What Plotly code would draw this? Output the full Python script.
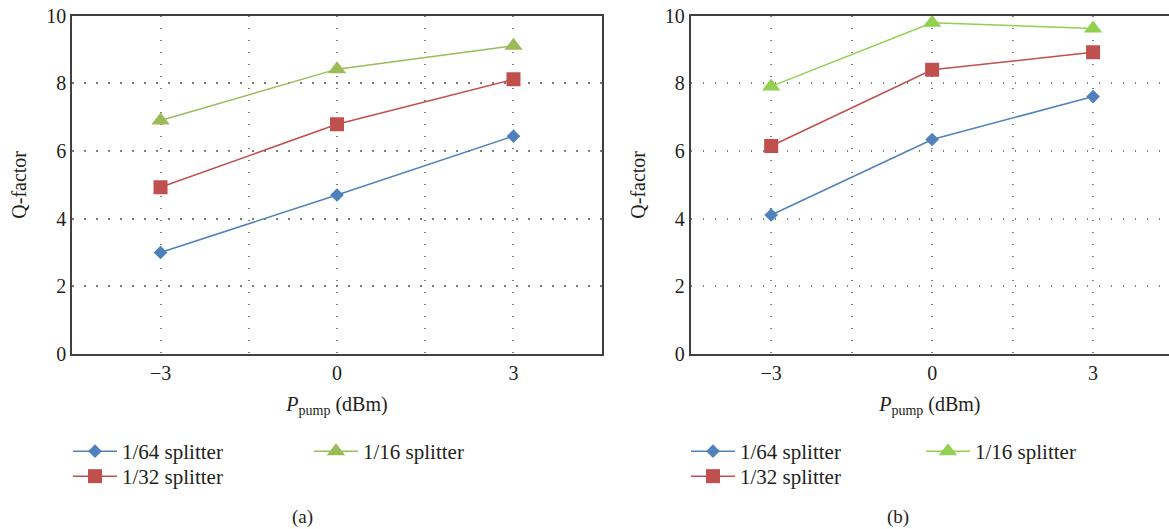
import plotly.graph_objects as go

# ---------------- data ----------------
pump_dbm = [-3, 0, 3]
series_names = ["1/64 splitter", "1/32 splitter", "1/16 splitter"]

# panel (a)
a_1_64 = [3.00, 4.70, 6.44]
a_1_32 = [4.93, 6.79, 8.12]
a_1_16 = [6.90, 8.42, 9.11]

# panel (b)
b_1_64 = [4.11, 6.34, 7.61]
b_1_32 = [6.15, 8.40, 8.92]
b_1_16 = [7.91, 9.79, 9.62]

x_tickvals = [-3, 0, 3]
x_ticktext = ["\u22123", "0", "3"]
x_minor_grid = [-1.5, 1.5]
y_tickvals = [0, 2, 4, 6, 8, 10]

# ---------------- style ----------------
W, H = 1169, 529
FONT = "Liberation Serif, Times New Roman, serif"
TXT = "#231f20"
AXC = "#404040"
GRIDC = "#7c7c7c"
DASH = "1.5px,10.5px"

colors_a = ["#4F81BD", "#C0504D", "#9BBB59"]
colors_b = ["#4F81BD", "#C0504D", "#92D050"]
symbols = ["diamond", "square", "triangle-up"]
msizes = [10.5, 14, 16]

def px_x(p):
    return p / W

def px_y(p):
    return 1 - p / H

fig = go.Figure()

# legend slot per series: (left panel legends, right panel legends)
legend_ids_a = ["legend", "legend2", "legend3"]
legend_ids_b = ["legend4", "legend5", "legend6"]
# legend item positions in pixels (left x, top y)
legend_pos_a = [(68, 431), (68, 456), (309, 431)]
legend_pos_b = [(686, 431), (686, 456), (921, 431)]

panels = [
    ("x", "y", [a_1_64, a_1_32, a_1_16], colors_a, legend_ids_a),
    ("x2", "y2", [b_1_64, b_1_32, b_1_16], colors_b, legend_ids_b),
]
for xa, ya, vals, cols, legs in panels:
    for i, (name, v) in enumerate(zip(series_names, vals)):
        fig.add_trace(go.Scatter(
            x=pump_dbm, y=v, name=name, mode="lines+markers",
            xaxis=xa, yaxis=ya,
            line=dict(color=cols[i], width=1.5),
            marker=dict(symbol=symbols[i], size=msizes[i], color=cols[i]),
            legend=legs[i],
        ))

ydom = [px_y(354), px_y(15.7)]
grid_common = dict(showgrid=True, gridcolor=GRIDC, gridwidth=1.6, griddash=DASH,
                   zeroline=False, ticks="", showline=True, linecolor=AXC, linewidth=2,
                   automargin=False,
                   tickfont=dict(family=FONT, size=20, color=TXT))
x_minor = dict(tickvals=x_minor_grid, showgrid=True, gridcolor=GRIDC, gridwidth=1.6,
               griddash=DASH, ticks="")

xtitle = dict(text="<i>P</i><sub>pump</sub> (dBm)", font=dict(family=FONT, size=20, color=TXT), standoff=14)
ytitle = dict(text="Q-factor", font=dict(family=FONT, size=20, color=TXT), standoff=14)

fig.update_layout(
    template="none",
    width=W, height=H,
    margin=dict(l=0, r=0, t=0, b=0, autoexpand=False),
    paper_bgcolor="white", plot_bgcolor="white",
    showlegend=True,
    xaxis=dict(domain=[px_x(72.3), px_x(601.7)], range=[-4.5, 4.5],
               tickvals=x_tickvals, ticktext=x_ticktext, minor=x_minor, mirror=True,
               anchor="y", title=xtitle, **grid_common),
    yaxis=dict(domain=ydom, range=[0, 10], tickvals=y_tickvals, mirror=True,
               anchor="x", title=ytitle, **grid_common),
    xaxis2=dict(domain=[px_x(690.7), 1.0], range=[-4.5, 4.415],
                tickvals=x_tickvals, ticktext=x_ticktext, minor=x_minor, mirror=True,
                anchor="y2", title=xtitle, **grid_common),
    yaxis2=dict(domain=ydom, range=[0, 10], tickvals=y_tickvals, mirror=False,
                anchor="x2", title=ytitle, **grid_common),
)

leg_common = dict(orientation="v", xanchor="left", yanchor="top", bgcolor="rgba(0,0,0,0)",
                  font=dict(family=FONT, size=21, color=TXT), itemwidth=44,
                  tracegroupgap=0)
legend_layout = {}
for ids, poss in [(legend_ids_a, legend_pos_a), (legend_ids_b, legend_pos_b)]:
    for lid, (lx, ly) in zip(ids, poss):
        legend_layout[lid] = dict(x=px_x(lx), y=px_y(ly), **leg_common)
fig.update_layout(**legend_layout)

for label, xc in [("(a)", 302), ("(b)", 898)]:
    fig.add_annotation(text=label, x=px_x(xc), y=px_y(517), xref="paper", yref="paper",
                       showarrow=False, xanchor="center", yanchor="middle",
                       font=dict(family=FONT, size=19, color=TXT))

fig.write_html("out.html")
